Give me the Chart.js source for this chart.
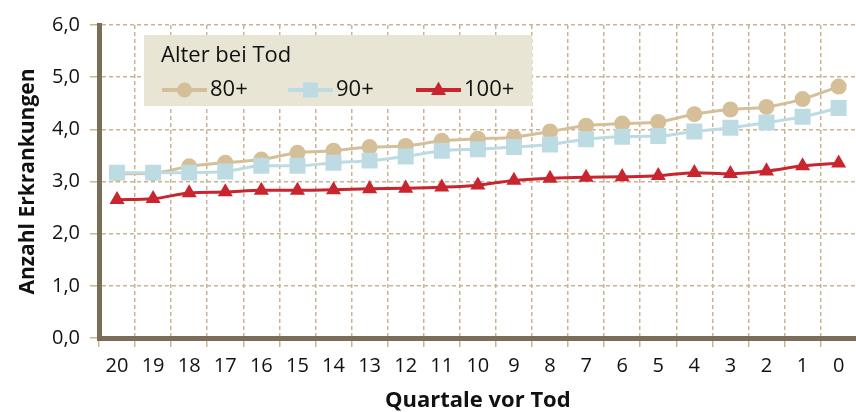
<!DOCTYPE html>
<html><head><meta charset="utf-8">
<script src="https://cdn.jsdelivr.net/npm/chart.js@4/dist/chart.umd.min.js"></script>
<style>html,body{margin:0;padding:0;overflow:hidden;background:#fff}#wrap{width:868px;height:412px}</style>
</head><body><div id="wrap"><canvas id="c" width="868" height="412"></canvas></div>
<script>
const categories = ['20','19','18','17','16','15','14','13','12','11','10','9','8','7','6','5','4','3','2','1','0'];
const series80  = [3.15,3.16,3.29,3.36,3.42,3.55,3.59,3.66,3.68,3.78,3.82,3.85,3.96,4.07,4.11,4.14,4.29,4.38,4.43,4.58,4.82];
const series90  = [3.17,3.17,3.17,3.19,3.30,3.30,3.36,3.40,3.48,3.59,3.62,3.66,3.71,3.81,3.86,3.87,3.96,4.03,4.13,4.24,4.41];
const series100 = [2.65,2.67,2.78,2.80,2.83,2.83,2.84,2.86,2.87,2.89,2.93,3.02,3.06,3.08,3.09,3.11,3.17,3.15,3.20,3.30,3.35];
const seriesNames = ['80+','90+','100+'];
const legendTitle = 'Alter bei Tod';
const xTitle = 'Quartale vor Tod';
const yTitle = 'Anzahl Erkrankungen';
const yMin = 0, yMax = 6, yStep = 1;

const C80 = '#d5bf99', C90 = '#bddbe2', C100 = '#c8252f';
const FONT = '"Open Sans", "DejaVu Sans", sans-serif';

const legendBox = {
  id: 'legendBox',
  beforeDatasetsDraw(chart) {
    const ctx = chart.ctx;
    ctx.save();
    ctx.fillStyle = '#e8e5d4';
    ctx.fillRect(144, 35, 388, 71);
    ctx.fillStyle = '#111';
    ctx.font = '22px ' + FONT;
    ctx.textBaseline = 'middle';
    ctx.textAlign = 'left';
    ctx.fillText(legendTitle, 161, 56);
    const xs = [162, 288, 416];
    const yc = 90;
    chart.data.datasets.forEach((ds, i) => {
      const x0 = xs[i];
      ctx.strokeStyle = ds.borderColor;
      ctx.lineWidth = 4;
      ctx.beginPath(); ctx.moveTo(x0, yc); ctx.lineTo(x0 + 45, yc); ctx.stroke();
      ctx.fillStyle = ds.pointBackgroundColor;
      const cx = x0 + 22.5;
      ctx.beginPath();
      if (ds.pointStyle === 'circle') { ctx.arc(cx, yc, 7.5, 0, Math.PI * 2); }
      else if (ds.pointStyle === 'rect') { ctx.rect(cx - 7.5, yc - 7.5, 15, 15); }
      else { ctx.moveTo(cx, yc - 8.5); ctx.lineTo(cx + 7.5, yc + 5); ctx.lineTo(cx - 7.5, yc + 5); ctx.closePath(); }
      ctx.fill();
      ctx.fillStyle = '#111';
      ctx.font = '22px ' + FONT;
      ctx.fillText(ds.label, x0 + 48, yc);
    });
    ctx.restore();
  }
};

const gridStyle = {
  color: '#c9b593',
  lineWidth: 1.5,
  tickLength: 9,
  tickColor: '#c9b593'
};

new Chart(document.getElementById('c'), {
  type: 'line',
  data: {
    labels: categories,
    datasets: [
      { label: seriesNames[0], data: series80, borderColor: C80, backgroundColor: C80, pointBackgroundColor: C80,
        pointStyle: 'circle', pointRadius: 8, pointHoverRadius: 8, borderWidth: 3, pointBorderWidth: 0, order: 3 },
      { label: seriesNames[1], data: series90, borderColor: C90, backgroundColor: C90, pointBackgroundColor: C90,
        pointStyle: 'rect', pointRadius: 11.3, pointHoverRadius: 11.3, borderWidth: 3, pointBorderWidth: 0, order: 2 },
      { label: seriesNames[2], data: series100, borderColor: C100, backgroundColor: C100, pointBackgroundColor: C100,
        pointStyle: 'triangle', pointRadius: 8.7, pointHoverRadius: 8.7, borderWidth: 3, pointBorderWidth: 0, order: 1 }
    ]
  },
  options: {
    responsive: false,
    animation: false,
    devicePixelRatio: 1,
    layout: { padding: { top: 25, left: 0, right: 0, bottom: 0 } },
    elements: { line: { tension: 0.3, cubicInterpolationMode: 'monotone' } },
    plugins: { legend: { display: false }, tooltip: { enabled: false } },
    scales: {
      x: {
        offset: true,
        grid: Object.assign({ offset: true, drawOnChartArea: true }, gridStyle),
        border: { display: true, color: '#7b6d58', width: 5, dash: [4, 3] },
        ticks: { color: '#111', font: { family: FONT, size: 20 }, padding: 7, maxRotation: 0, autoSkip: false },
        title: { display: true, text: xTitle, color: '#111', font: { family: FONT, size: 22, weight: 'bold' }, padding: { top: 0, bottom: -2 } },
        afterFit: s => { s.height = 74; }
      },
      y: {
        min: yMin, max: yMax,
        grid: gridStyle,
        border: { display: true, color: '#7b6d58', width: 5, dash: [4, 3] },
        ticks: { stepSize: yStep, color: '#111', font: { family: FONT, size: 20 }, padding: 10,
          callback: v => v.toFixed(1).replace('.', ',') },
        title: { display: true, text: yTitle, color: '#111', font: { family: FONT, size: 21, weight: 'bold' }, padding: { top: 15, bottom: 0 } },
        afterFit: s => { s.width = 99; }
      }
    }
  },
  plugins: [legendBox]
});
</script>
</body></html>
